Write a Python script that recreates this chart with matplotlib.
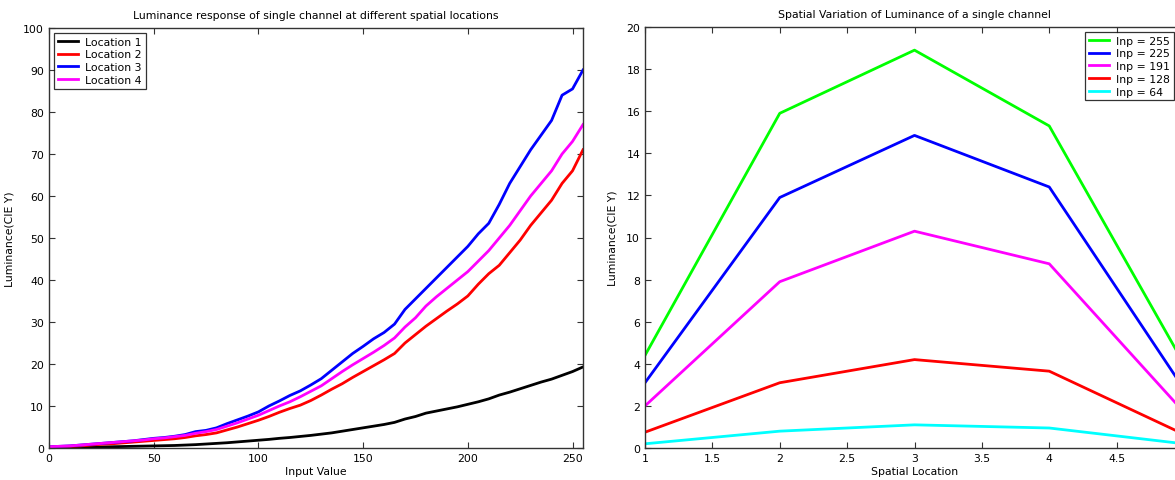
import matplotlib
matplotlib.use("Agg")
import matplotlib.pyplot as plt

plt.rcParams['font.family'] = ['DejaVu Sans']

# ---- Left chart data ----
input_values = list(range(0, 256, 5))
loc1 = [0.0, 0.05, 0.1, 0.15, 0.2, 0.25, 0.3, 0.35, 0.4, 0.45, 0.5, 0.55, 0.6, 0.7, 0.8, 0.95,
        1.1, 1.25, 1.45, 1.65, 1.85, 2.05, 2.3, 2.5, 2.75, 3.0, 3.3, 3.6, 4.0, 4.4, 4.8, 5.2,
        5.6, 6.1, 6.9, 7.5, 8.3, 8.8, 9.3, 9.8, 10.4, 11.0, 11.7, 12.6, 13.3, 14.1, 14.9, 15.7,
        16.4, 17.3, 18.2, 19.3]
loc2 = [0.2, 0.3, 0.4, 0.5, 0.7, 0.9, 1.0, 1.2, 1.4, 1.6, 1.8, 2.0, 2.2, 2.5, 2.9, 3.2,
        3.6, 4.3, 5.0, 5.8, 6.6, 7.5, 8.5, 9.4, 10.2, 11.3, 12.6, 14.0, 15.3, 16.8, 18.2, 19.6,
        21.0, 22.5, 25.0, 27.0, 29.0, 30.8, 32.6, 34.3, 36.2, 39.0, 41.5, 43.5, 46.5, 49.5, 53.0, 56.0,
        59.0, 63.0, 66.0, 71.0]
loc3 = [0.3, 0.4, 0.5, 0.7, 0.9, 1.1, 1.3, 1.5, 1.7, 2.0, 2.3, 2.5, 2.8, 3.2, 3.9, 4.2,
        4.8, 5.8, 6.7, 7.6, 8.6, 10.0, 11.2, 12.5, 13.6, 15.0, 16.5, 18.5, 20.5, 22.5, 24.2, 26.0,
        27.5, 29.5, 33.0, 35.5, 38.0, 40.5, 43.0, 45.5, 48.0, 51.0, 53.5, 58.0, 63.0, 67.0, 71.0, 74.5,
        78.0, 84.0, 85.5, 90.0]
loc4 = [0.3, 0.4, 0.5, 0.7, 0.9, 1.1, 1.3, 1.5, 1.7, 1.9, 2.2, 2.4, 2.7, 3.0, 3.5, 3.9,
        4.4, 5.2, 6.0, 6.9, 7.8, 8.9, 10.0, 11.0, 12.2, 13.5, 14.8, 16.5, 18.2, 19.8, 21.3, 22.8,
        24.4, 26.2, 28.8, 31.0, 33.8, 36.0, 38.0, 40.0, 42.0, 44.5, 47.0, 50.0, 53.0, 56.5, 60.0, 63.0,
        66.0, 70.0, 73.0, 77.0]
left_series = [("Location 1", loc1, "black"), ("Location 2", loc2, "#ff0000"),
               ("Location 3", loc3, "#0000ff"), ("Location 4", loc4, "#ff00ff")]
left_xticks = [0, 50, 100, 150, 200, 250]
left_yticks = list(range(0, 101, 10))

# ---- Right chart data ----
locations = [1, 2, 3, 4, 5]
inp255 = [4.4, 15.9, 18.9, 15.3, 4.0]
inp225 = [3.1, 11.9, 14.85, 12.4, 2.8]
inp191 = [2.0, 7.9, 10.3, 8.75, 1.7]
inp128 = [0.75, 3.1, 4.2, 3.65, 0.65]
inp64 = [0.2, 0.8, 1.1, 0.95, 0.2]
right_series = [("Inp = 255", inp255, "#00ff00"), ("Inp = 225", inp225, "#0000ff"),
                ("Inp = 191", inp191, "#ff00ff"), ("Inp = 128", inp128, "#ff0000"),
                ("Inp = 64", inp64, "#00ffff")]
right_xticks = [1, 1.5, 2, 2.5, 3, 3.5, 4, 4.5, 5]
right_xticklabels = ["1", "1.5", "2", "2.5", "3", "3.5", "4", "4.5", ""]
right_yticks = list(range(0, 21, 2))

FS = 7.8
W, H = 1175, 481
fig = plt.figure(figsize=(W / 100, H / 100), dpi=100)

def style(ax):
    ax.tick_params(direction='in', top=True, right=True, labelsize=FS, length=4,
                   width=0.8, color='#333333', pad=3.5)
    for s in ax.spines.values():
        s.set_color('#333333')
        s.set_linewidth(1.0)

ax1 = fig.add_axes([49 / W, (H - 449) / H, 534 / W, 420 / H])
for name, vals, col in left_series:
    ax1.plot(input_values, vals, color=col, lw=2.0, label=name)
ax1.set_xlim(0, 255)
ax1.set_ylim(0, 100)
ax1.set_xticks(left_xticks)
ax1.set_yticks(left_yticks)
style(ax1)
ax1.set_title("Luminance response of single channel at different spatial locations", fontsize=FS, pad=7)
ax1.set_xlabel("Input Value", fontsize=FS, labelpad=2)
ax1.set_ylabel("Luminance(CIE Y)", fontsize=FS, labelpad=6)
leg1 = ax1.legend(loc='upper left', fontsize=FS, frameon=True, fancybox=False,
                  edgecolor='black', borderaxespad=0.45, handlelength=1.9,
                  labelspacing=0.25, borderpad=0.35, handletextpad=0.65)
leg1.get_frame().set_linewidth(0.9)

ax2 = fig.add_axes([645 / W, (H - 449) / H, 539 / W, 421 / H])
for name, vals, col in right_series:
    ax2.plot(locations, vals, color=col, lw=2.0, label=name)
ax2.set_xlim(1, 5)
ax2.set_ylim(0, 20)
ax2.set_xticks(right_xticks)
ax2.set_xticklabels(right_xticklabels)
ax2.set_yticks(right_yticks)
style(ax2)
ax2.set_title("Spatial Variation of Luminance of a single channel", fontsize=FS, pad=7)
ax2.set_xlabel("Spatial Location", fontsize=FS, labelpad=2)
ax2.set_ylabel("Luminance(CIE Y)", fontsize=FS, labelpad=6)
leg2 = ax2.legend(loc='upper right', fontsize=FS, frameon=True, fancybox=False,
                  edgecolor='black', borderaxespad=0.0, handlelength=1.9,
                  labelspacing=0.25, borderpad=0.35, handletextpad=0.65,
                  bbox_to_anchor=(1174 / W, (H - 33) / H),
                  bbox_transform=fig.transFigure)
leg2.get_frame().set_linewidth(0.9)

fig.savefig("out.png", dpi=100)
